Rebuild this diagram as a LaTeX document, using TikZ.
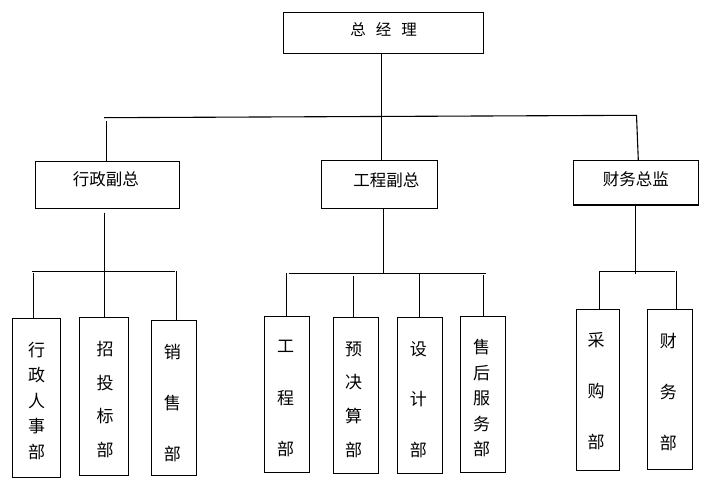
\documentclass[tikz,border=0pt]{standalone}
\usepackage{fontspec}
\newfontfamily\cjk{Noto Sans CJK SC}
\begin{document}
\begin{tikzpicture}[x=1pt,y=-1pt,
  box/.style={draw, line width=1.1pt, inner sep=0pt, rectangle},
  ln/.style={line width=1.1pt},
  vt/.style={font=\cjk\fontsize{17}{#1}\selectfont, align=center, inner sep=0pt},
  ht/.style={font=\cjk\fontsize{16.5}{20}\selectfont, inner sep=0pt}]
\useasboundingbox (0,0) rectangle (708,490);
\fill[white] (0,0) rectangle (708,490);

% top
\node[box, minimum width=200pt, minimum height=41pt] (gm) at (383.3,32.8) {};
\node[ht, font=\cjk\fontsize{15.5}{18}\selectfont] (gmt) at (383.5,30) {总\hspace{10pt}经\hspace{10pt}理};

% second level
\node[box, minimum width=143.6pt, minimum height=47.3pt] (v1) at (107.5,184.7) {};
\node[ht] (v1t) at (105.8,179) {行政副总};
\node[box, minimum width=116pt, minimum height=48.3pt] (v2) at (379.7,184.2) {};
\node[ht] (v2t) at (386.3,180) {工程副总};
\node[box, minimum width=124.4pt, minimum height=44.3pt] (v3) at (636.0,182.8) {};
\node[ht] (v3t) at (635.8,179) {财务总监};

% third level
\node[box, minimum width=48pt, minimum height=159.4pt] (d1) at (36.3,398) {};
\node[vt=25.4] (d1t) at (36.7,400.9) {行\\政\\人\\事\\部};
\node[box, minimum width=49.4pt, minimum height=158pt] (d2) at (104,396.3) {};
\node[vt=33.7] (d2t) at (105,399.5) {招\\投\\标\\部};
\node[box, minimum width=45pt, minimum height=155pt] (d3) at (173.8,397.8) {};
\node[vt=51.2] (d3t) at (172.3,402.8) {销\\售\\部};

\node[box, minimum width=45pt, minimum height=155.7pt] (d4) at (286.8,394.2) {};
\node[vt=51.3] (d4t) at (285.7,398.7) {工\\程\\部};
\node[box, minimum width=45pt, minimum height=156pt] (d5) at (355.8,395.3) {};
\node[vt=33.7] (d5t) at (353.5,399.5) {预\\决\\算\\部};
\node[box, minimum width=44.6pt, minimum height=156pt] (d6) at (420,395.3) {};
\node[vt=50.5] (d6t) at (418.3,399.5) {设\\计\\部};
\node[box, minimum width=44.6pt, minimum height=155.7pt] (d7) at (483,394.2) {};
\node[vt=25.4] (d7t) at (481.7,398.2) {售\\后\\服\\务\\部};

\node[box, minimum width=42.6pt, minimum height=161pt] (d8) at (598,389.8) {};
\node[vt=51.3] (d8t) at (596,391.3) {采\\购\\部};
\node[box, minimum width=45pt, minimum height=160pt] (d9) at (669.8,389.3) {};
\node[vt=51] (d9t) at (668.3,391.7) {财\\务\\部};

% top connectors
\coordinate (bL) at (104,117.7);
\coordinate (bR) at (636.5,115.3);
\draw[ln] ([xshift=-1.8pt]gm.south) -- ([xshift=1.8pt]v2.north);
\draw[ln] (bL) -- (bR) -- ([xshift=2.3pt]v3.north);
\draw[ln] ([xshift=-1pt]v1.north) -- ++(0,-40);

% group 1
\coordinate (g1L) at (32.3,271.7);
\coordinate (g1R) at (175,271.7);
\draw[ln] (g1L) -- (g1R);
\draw[ln] ([xshift=0.5pt,yshift=-3.7pt]v1.south -| d2.north) -- ([xshift=0.5pt]d2.north);
\draw[ln] ([xshift=-3pt]d1.north) -- ++(0,-44.3);
\draw[ln] ([xshift=2.5pt]d3.north) -- ++(0,-48.3);

% group 2
\coordinate (g2L) at (288.7,273.3);
\coordinate (g2R) at (485.7,273.3);
\draw[ln] (g2L) -- (g2R);
\draw[ln] ([xshift=3.5pt]v2.south) -- ++(0,65);
\draw[ln] (d4.north) -- ++(0,-43.3);
\draw[ln] ([xshift=-2.5pt]d5.north) -- ++(0,-40.3);
\draw[ln] ([xshift=-0.5pt]d6.north) -- ++(0,-43.3);
\draw[ln] ([xshift=0.5pt]d7.north) -- ++(0,-41.3);

% group 3
\coordinate (g3L) at (599.3,271.3);
\coordinate (g3R) at (675,271.3);
\draw[ln] (g3L) -- (g3R);
\draw[ln] ([xshift=-0.2pt]v3.south) -- ++(0,68.3);
\draw[ln] ([xshift=1.3pt]d8.north) -- ++(0,-38);
\draw[ln] ([xshift=6.5pt]d9.north) -- ++(0,-37.3);
\end{tikzpicture}
\end{document}
